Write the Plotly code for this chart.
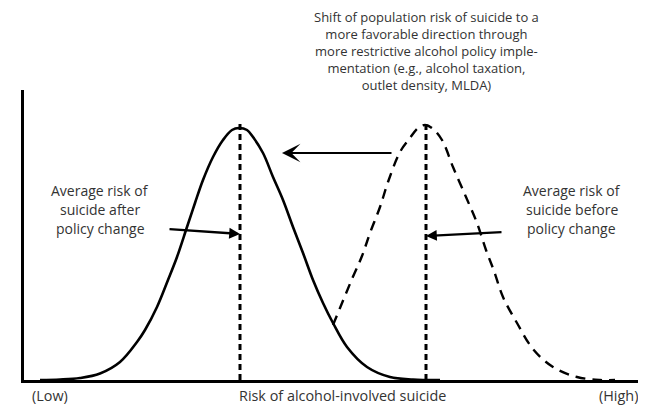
import plotly.graph_objects as go

# ---- data (arbitrary units) ----
# risk axis: 0 .. 614, density axis: 0 .. 290
after_x = [16, 36, 56, 76, 96, 113, 121, 133, 144, 153, 163, 171, 179, 189, 199, 208,
           215, 223, 229, 239, 249, 259, 269, 279, 289, 299, 309, 323, 343, 366, 389, 416]
after_y = [0, 0.5, 2, 6.5, 18, 38, 50, 73, 100, 123, 153, 177, 200, 223, 240, 250,
           252, 250, 243, 227, 203, 180, 153, 127, 100, 77, 57, 33, 13, 3, 0.5, 0]

before_x = [309, 316, 328, 338, 346, 356, 364, 376, 386, 394, 401, 408, 418, 429, 442,
            453, 462, 470, 479, 493, 509, 529, 553, 576, 591]
before_y = [55, 72, 101, 124, 147, 173, 198, 228, 242, 252, 255, 252, 240, 213, 183,
            157, 130, 109, 83, 57, 31, 13, 3, 0, 0]

mean_after = 216
mean_before = 402
mean_top = 258

x_range = [0, 614]
y_range = [0, 290]
end_labels = ["(Low)", "(High)"]
x_title = "Risk of alcohol-involved suicide"

top_lines = ["Shift of population risk of suicide to a",
             "more favorable direction through",
             "more restrictive alcohol policy imple-",
             "mentation (e.g., alcohol taxation,",
             "outlet density, MLDA)"]
left_lines = ["Average risk of", "suicide after", "policy change"]
right_lines = ["Average risk of", "suicide before", "policy change"]

FONT = "Open Sans, Noto Sans, sans-serif"
TXT = "#333333"

fig = go.Figure()
fig.add_trace(go.Scatter(x=after_x, y=after_y, mode="lines", line_shape="spline",
                         line=dict(color="black", width=2.6), hoverinfo="skip"))
fig.add_trace(go.Scatter(x=before_x, y=before_y, mode="lines", line_shape="spline",
                         line=dict(color="black", width=2.4, dash="10px,7px"), hoverinfo="skip"))
fig.add_trace(go.Scatter(x=[mean_after, mean_after], y=[0, mean_top], mode="lines",
                         line=dict(color="black", width=3, dash="6px,4px"), hoverinfo="skip"))
fig.add_trace(go.Scatter(x=[mean_before, mean_before], y=[0, mean_top], mode="lines",
                         line=dict(color="black", width=3, dash="6px,4px"), hoverinfo="skip"))

anns = []
# arrows
anns.append(dict(x=258, y=227, ax=369, ay=227, xref="x", yref="y", axref="x", ayref="y",
                 text="", showarrow=True, arrowhead=3, arrowsize=1.4, arrowwidth=2.2,
                 arrowcolor="black"))
anns.append(dict(x=mean_after, y=146, ax=144, ay=151, xref="x", yref="y", axref="x", ayref="y",
                 text="", showarrow=True, arrowhead=2, arrowsize=0.9, arrowwidth=2.4,
                 arrowcolor="black"))
anns.append(dict(x=mean_before, y=144, ax=479, ay=148, xref="x", yref="y", axref="x", ayref="y",
                 text="", showarrow=True, arrowhead=2, arrowsize=0.9, arrowwidth=2.4,
                 arrowcolor="black"))
# texts (paper coordinates)
anns.append(dict(x=0.656, y=1.1362, xref="paper", yref="paper", text="<br>".join(top_lines),
                 showarrow=False, align="center", borderpad=0,
                 font=dict(family=FONT, size=13, color=TXT),
                 xanchor="center", yanchor="middle"))
for i, t in enumerate(left_lines):
    anns.append(dict(x=0.124, y=0.655 - 0.067 * i, xref="paper", yref="paper", text=t,
                     showarrow=False, font=dict(family=FONT, size=14, color=TXT),
                     xanchor="center", yanchor="middle"))
for i, t in enumerate(right_lines):
    anns.append(dict(x=0.8925, y=0.655 - 0.067 * i, xref="paper", yref="paper", text=t,
                     showarrow=False, font=dict(family=FONT, size=14, color=TXT),
                     xanchor="center", yanchor="middle"))
anns.append(dict(x=0.5195, y=-0.055, xref="paper", yref="paper", text=x_title, showarrow=False,
                 font=dict(family=FONT, size=14.4, color=TXT), xanchor="center", yanchor="middle"))
anns.append(dict(x=0.042, y=-0.055, xref="paper", yref="paper", text=end_labels[0],
                 showarrow=False, font=dict(family=FONT, size=14.4, color=TXT),
                 xanchor="center", yanchor="middle"))
anns.append(dict(x=0.969, y=-0.055, xref="paper", yref="paper", text=end_labels[1],
                 showarrow=False, font=dict(family=FONT, size=14.4, color=TXT),
                 xanchor="center", yanchor="middle"))

# the page body adds an 8px offset, so the figure is 8px smaller with 8px less left/top margin
fig.update_layout(
    width=638, height=397,
    margin=dict(l=16, r=8, t=82, b=25, autoexpand=False),
    paper_bgcolor="white", plot_bgcolor="white",
    showlegend=False,
    annotations=anns,
    xaxis=dict(range=x_range, showgrid=False, zeroline=False, showline=True,
               linecolor="black", linewidth=3, ticks="", showticklabels=False,
               automargin=False, fixedrange=True),
    yaxis=dict(range=y_range, showgrid=False, zeroline=False, showline=True,
               linecolor="black", linewidth=3, ticks="", showticklabels=False,
               automargin=False, fixedrange=True),
)

fig.write_html("out.html")
